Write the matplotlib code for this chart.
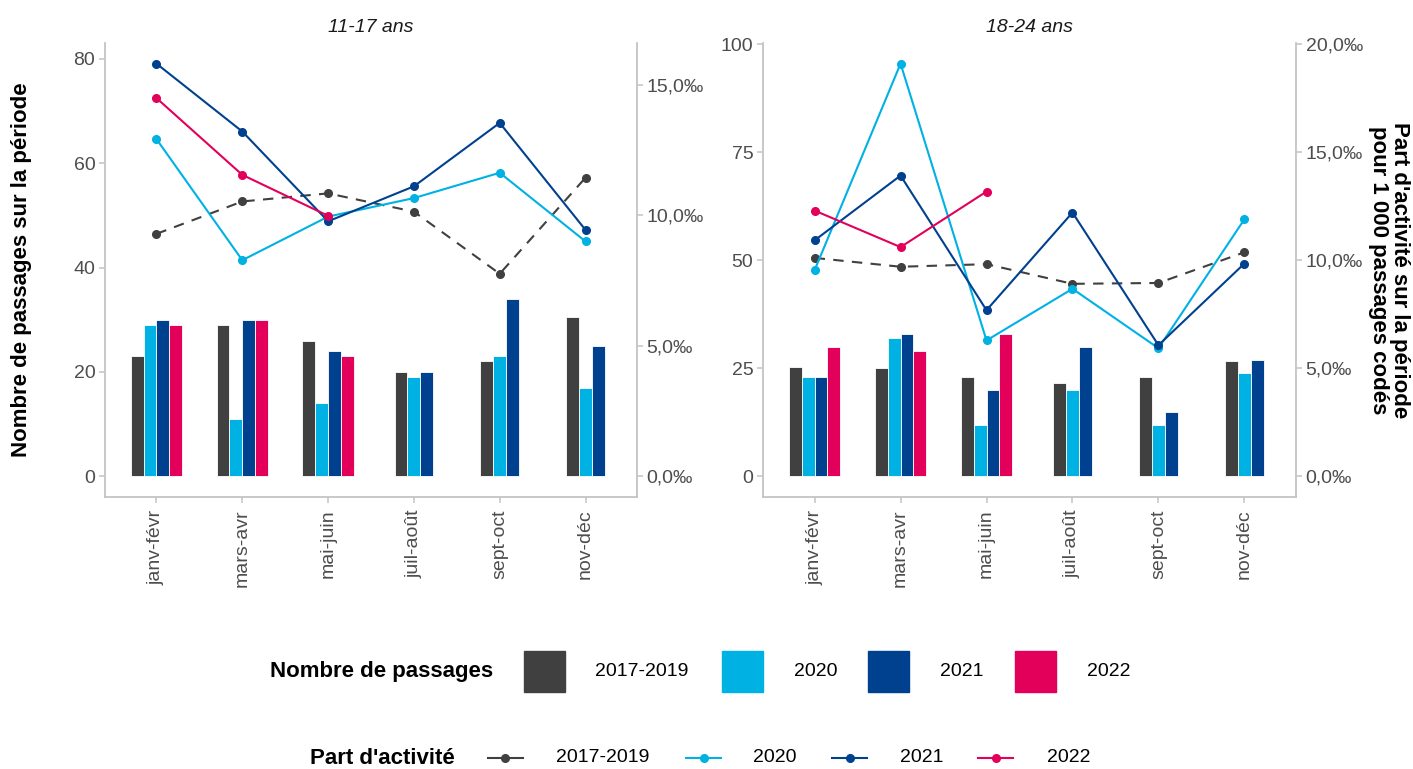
import numpy as np
import matplotlib.pyplot as plt
from matplotlib.patches import Rectangle
from matplotlib.lines import Line2D

plt.rcParams['font.family'] = ['Liberation Sans', 'DejaVu Sans']

periodes = ['janv-févr', 'mars-avr', 'mai-juin', 'juil-août', 'sept-oct', 'nov-déc']
series = ['2017-2019', '2020', '2021', '2022']
couleurs = ['#404040', '#00B1E4', '#00418F', '#E3005A']
nan = np.nan

# nombre de passages (barres, axe de gauche)
passages_11_17 = {
    '2017-2019': [23, 29, 26, 20, 22, 30.6],
    '2020': [29, 11, 14, 19, 23, 17],
    '2021': [30, 30, 24, 20, 34, 25],
    '2022': [29, 30, 23, nan, nan, nan],
}
passages_18_24 = {
    '2017-2019': [25.4, 25, 23, 21.7, 23, 26.7],
    '2020': [23, 32, 12, 20, 12, 24],
    '2021': [23, 33, 20, 30, 15, 27],
    '2022': [30, 29, 33, nan, nan, nan],
}

# part d'activité pour 1 000 passages codés (courbes, axe de droite)
part_11_17 = {
    '2017-2019': [9.29, 10.53, 10.84, 10.14, 7.76, 11.44],
    '2020': [12.92, 8.28, 9.95, 10.66, 11.63, 9.00],
    '2021': [15.81, 13.21, 9.77, 11.11, 13.54, 9.44],
    '2022': [14.49, 11.55, 9.98, nan, nan, nan],
}
part_18_24 = {
    '2017-2019': [10.11, 9.70, 9.82, 8.91, 8.95, 10.37],
    '2020': [9.54, 19.10, 6.29, 8.68, 5.93, 11.90],
    '2021': [10.92, 13.92, 7.69, 12.21, 6.07, 9.85],
    '2022': [12.30, 10.61, 13.18, nan, nan, nan],
}

panneaux = [
    ('11-17 ans', passages_11_17, part_11_17, [0, 20, 40, 60, 80], [0, 5, 10, 15]),
    ('18-24 ans', passages_18_24, part_18_24, [0, 25, 50, 75, 100], [0, 5, 10, 15, 20]),
]

ratio = 5.0  # 1 ‰ sur l'axe de droite = 5 passages sur l'axe de gauche
largeur = 0.15
gris_axe = '#C4C4C4'
gris_txt = '#4D4D4D'
fs = 14

W, H = 1413, 769
fig = plt.figure(figsize=(W / 100, H / 100), dpi=100)


def fx(x):
    return x / W


def fy(y):
    return 1 - y / H


positions = [(105, 637), (763, 1296)]
top, bottom = 43, 497

for (titre, passages, part, yticks, yticks2), (x0, x1) in zip(panneaux, positions):
    ax = fig.add_axes([fx(x0), fy(bottom), fx(x1 - x0), (bottom - top) / H])
    x = np.arange(1, len(periodes) + 1)

    # barres groupées, décalées selon le nombre d'années présentes
    for i in range(len(periodes)):
        presentes = [s for s in series if not np.isnan(passages[s][i])]
        n = len(presentes)
        for k, s in enumerate(presentes):
            c = couleurs[series.index(s)]
            ax.bar(x[i] + (k - (n - 1) / 2) * largeur, passages[s][i], width=largeur,
                   color=c, edgecolor='white', linewidth=0.6, zorder=2)

    vmax = max(np.nanmax(passages[s]) for s in series)
    vmax = max(vmax, max(np.nanmax(part[s]) for s in series) * ratio)
    ylo, yhi = -0.05 * vmax, vmax * 1.05
    ax.set_ylim(ylo, yhi)
    ax.set_xlim(0.4, len(periodes) + 0.6)
    ax.set_yticks(yticks)
    ax.set_xticks(x)
    ax.set_xticklabels(periodes, rotation=90, ha='center', va='top')

    ax2 = ax.twinx()
    ax2.set_ylim(ylo / ratio, yhi / ratio)
    for s, c in zip(series, couleurs):
        ls = '--' if s == '2017-2019' else '-'
        ax2.plot(x, part[s], ls, color=c, linewidth=1.5, marker='o', markersize=5.5,
                 dashes=(5, 4) if ls == '--' else (None, None))
    ax2.set_yticks(yticks2)
    ax2.set_yticklabels([f'{v:.1f}'.replace('.', ',') + '‰' for v in yticks2])

    for a in (ax, ax2):
        for side in ('top', 'left', 'right', 'bottom'):
            a.spines[side].set_visible(False)
        a.tick_params(colors=gris_axe, labelcolor=gris_txt, labelsize=fs,
                      length=4, width=1.1, pad=3)
    ax.spines['left'].set_visible(True)
    ax.spines['bottom'].set_visible(True)
    ax2.spines['right'].set_visible(True)
    for sp in (ax.spines['left'], ax.spines['bottom'], ax2.spines['right']):
        sp.set_color(gris_axe)
        sp.set_linewidth(1.3)
    ax.tick_params(axis='x', pad=5)

    ax.set_title(titre, style='italic', fontsize=fs, color='#1A1A1A', pad=8)

fig.text(fx(22), fy(270), 'Nombre de passages sur la période', rotation=90,
         fontsize=16, fontweight='bold', ha='center', va='center')
fig.text(fx(1389), fy(270), "Part d'activité sur la période\npour 1 000 passages codés",
         rotation=270, fontsize=16, fontweight='bold', ha='center', va='center',
         multialignment='center', linespacing=1.0)

# légende des barres
yl1 = 671
fig.text(fx(270), fy(yl1), 'Nombre de passages', fontsize=16, fontweight='bold',
         ha='left', va='center')
for s, c, kx, lx in zip(series, couleurs, [524, 722, 868, 1015], [595, 794, 940, 1087]):
    fig.patches.append(Rectangle((fx(kx), fy(yl1 + 20.5)), fx(41), 41 / H,
                                 transform=fig.transFigure, color=c))
    fig.text(fx(lx), fy(yl1), s, fontsize=fs, ha='left', va='center')

# légende des courbes
yl2 = 758
fig.text(fx(310), fy(yl2), "Part d'activité", fontsize=16, fontweight='bold',
         ha='left', va='center')
for s, c, kx, lx in zip(series, couleurs, [488, 686, 832, 978], [556, 753, 900, 1047]):
    fig.lines.append(Line2D([fx(kx), fx(kx + 35)], [fy(yl2), fy(yl2)],
                            transform=fig.transFigure, color=c, linewidth=1.5))
    fig.lines.append(Line2D([fx(kx + 17.5)], [fy(yl2)], transform=fig.transFigure,
                            color=c, marker='o', markersize=5.5))
    fig.text(fx(lx), fy(yl2), s, fontsize=fs, ha='left', va='center')

fig.savefig('out.png', dpi=100)
